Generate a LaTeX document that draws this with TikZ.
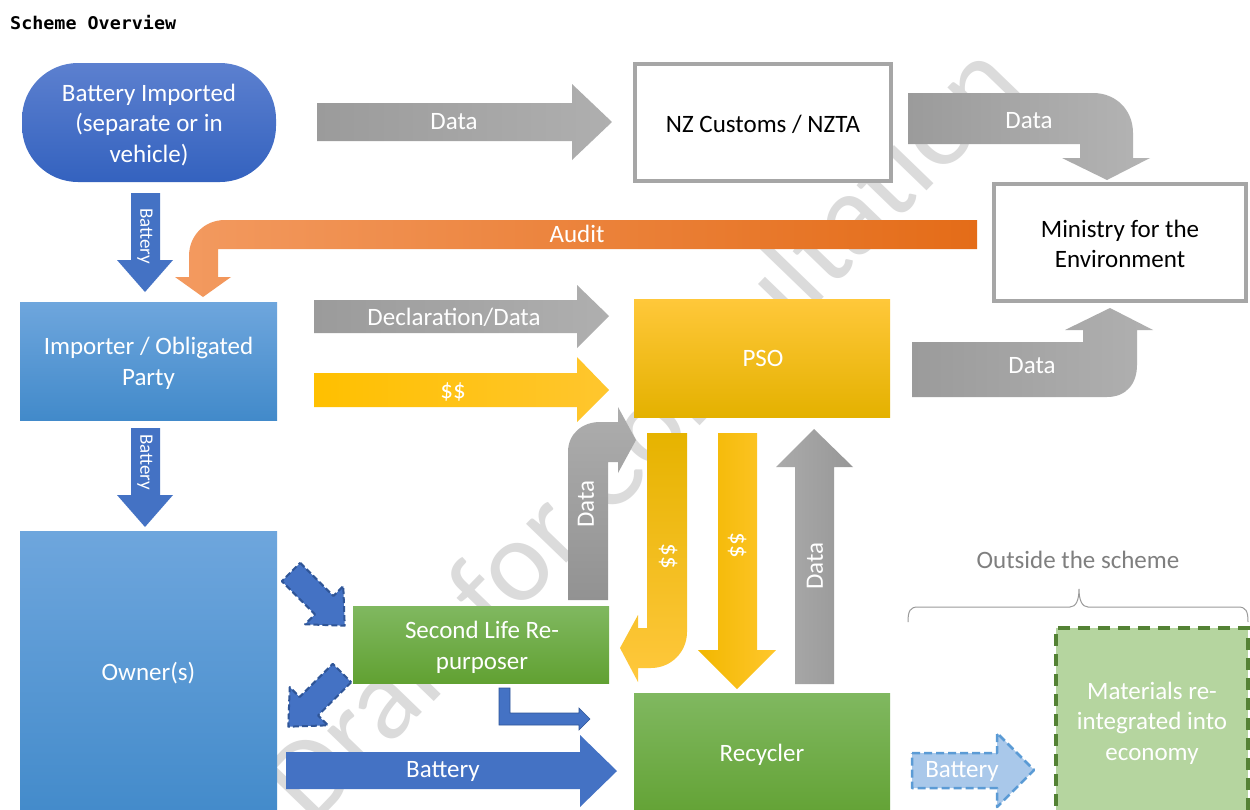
\documentclass[tikz,border=0pt]{standalone}
\usepackage{fontspec}
\setmainfont{Carlito}
\newfontfamily\titlefont{DejaVu Sans Mono}
\usetikzlibrary{calc}
\definecolor{bluedk}{HTML}{4472C4}
\definecolor{blueedge}{HTML}{2F5597}
\definecolor{grayL}{HTML}{9B9B9B}
\definecolor{grayR}{HTML}{AFAFAF}
\definecolor{grayR2}{HTML}{B4B4B4}
\definecolor{grayR3}{HTML}{B0B0B0}
\definecolor{grayT}{HTML}{ADADAD}
\definecolor{grayB}{HTML}{929292}
\definecolor{grayUL}{HTML}{ABABAB}
\definecolor{grayUR}{HTML}{979797}
\definecolor{yelT}{HTML}{FFC83A}
\definecolor{yelM}{HTML}{FFC000}
\definecolor{yelB}{HTML}{E4B100}
\definecolor{yelR}{HTML}{FFC62E}
\definecolor{yelDT}{HTML}{E6B300}
\definecolor{yelDB}{HTML}{FFC83D}
\definecolor{yelSL}{HTML}{F2B700}
\definecolor{yelSR}{HTML}{FFC72C}
\definecolor{grnT}{HTML}{80B860}
\definecolor{grnM}{HTML}{70AD47}
\definecolor{grnB}{HTML}{61A132}
\definecolor{ltblueT}{HTML}{6EA6DD}
\definecolor{ltblueB}{HTML}{428ACA}
\definecolor{impT}{HTML}{5C80CF}
\definecolor{impB}{HTML}{3462BF}
\definecolor{orgL}{HTML}{F39A60}
\definecolor{orgR}{HTML}{E46C18}
\definecolor{boxedge}{HTML}{A6A6A6}
\definecolor{matfill}{HTML}{B5D59F}
\definecolor{matedge}{HTML}{548235}
\definecolor{lbfill}{HTML}{A9C8EA}
\definecolor{lbedge}{HTML}{5B9BD5}
\definecolor{bracecol}{HTML}{9A9A9A}
\definecolor{outcol}{HTML}{7F7F7F}
\begin{document}
\begin{tikzpicture}[x=1pt,y=-1pt,
  lbl/.style={text=white, font=\fontsize{25}{30.5}\selectfont, inner sep=0pt, align=center},
  smlbl/.style={text=white, font=\fontsize{19}{22}\selectfont, inner sep=0pt},
  blk/.style={font=\fontsize{25}{30.5}\selectfont, inner sep=0pt, align=center},
  whitebox/.style={draw=boxedge, line width=3.5pt, fill=white},
  bluebox/.style={top color=ltblueT, bottom color=ltblueB, draw=none},
  greenbox/.style={top color=grnT, middle color=grnM, bottom color=grnB, draw=none},
  dashblue/.style={fill=bluedk, draw=blueedge, line width=2pt, dash pattern=on 6pt off 3pt, line join=round},
]
\useasboundingbox (0,0) rectangle (1250,809);
\fill[white] (0,0) rectangle (1250,809);

% watermark
\node[rotate=46, text=black!14, font=\fontsize{117}{117}\selectfont, inner sep=0pt] (wm) at (640,430) {Draft for Consultation};

% title
\node[anchor=base west, inner sep=0pt, xscale=1.05, font=\titlefont\bfseries\fontsize{17.5}{20}\selectfont] (title) at (10,29) {Scheme Overview};

% ---------- boxes ----------
\node[top color=impT, bottom color=impB, draw=none, rounded corners=56pt,
      minimum width=254pt, minimum height=119pt] (imported) at (149,122.5) {};
\node[lbl] (importedT) at (149,125) {Battery Imported\\(separate or in\\vehicle)};

\node[whitebox, minimum width=256pt, minimum height=117pt] (customs) at (763,122.5) {};
\node[blk] (customsT) at (763,124) {NZ Customs / NZTA};

\node[whitebox, minimum width=252pt, minimum height=117pt] (ministry) at (1120,242.5) {};
\node[blk] (ministryT) at (1120,244) {Ministry for the\\Environment};

\node[bluebox, minimum width=257pt, minimum height=118pt] (importer) at (148.5,361) {};
\node[lbl] (importerT) at (148.5,363.5) {Importer / Obligated\\Party};

\node[bluebox, minimum width=257pt, minimum height=290pt] (owner) at (148.5,676) {};
\node[lbl] (ownerT) at (148.5,673) {Owner(s)};

\node[top color=yelT, middle color=yelM, bottom color=yelB, draw=none,
      minimum width=256pt, minimum height=118pt] (pso) at (762,358) {};
\node[lbl] (psoT) at (763,358) {PSO};

\node[greenbox, minimum width=256pt, minimum height=77pt] (second) at (481,644.5) {};
\node[lbl] (secondT) at (482,647.5) {Second Life Re-\\purposer};

\node[greenbox, minimum width=256pt, minimum height=130pt] (recycler) at (762,758) {};
\node[lbl] (recyclerT) at (762,755) {Recycler};

\node[fill=matfill, draw=matedge, line width=4pt, dash pattern=on 12pt off 8pt,
      minimum width=192pt, minimum height=190pt] (materials) at (1152,723) {};
\node[lbl] (materialsT) at (1152,723) {Materials re-\\integrated into\\economy};

% ---------- arrows ----------
% Data: imported -> customs
\shade[left color=grayL, right color=grayR]
  (317,103) -- (572,103) -- (572,84) -- (612,122) -- (572,160) -- (572,141) -- (317,141) -- cycle;
\node[lbl] (dataA) at (454,122) {Data};

% Data: customs -> ministry (bent)
\shade[left color=grayL, right color=grayR2]
  (908,93) -- (1093,93) .. controls (1116,93) and (1133,110) .. (1133,133) -- (1133,158)
  -- (1150,158) -- (1107,180) -- (1062,158) -- (1080,158) -- (1080,144) -- (908,144) -- cycle;
\node[lbl] (dataB) at (1029,121) {Data};

% Audit (bent, orange)
\shade[left color=orgL, right color=orgR]
  (977,220) -- (225,220) .. controls (204,220) and (189,236) .. (189,256) -- (189,277)
  -- (175,277) -- (203,297) -- (231,277) -- (218,277) -- (218,249) -- (977,249) -- cycle;
\node[lbl] (audit) at (577,234) {Audit};

% Battery arrows (small, vertical)
\fill[bluedk] (131,193) -- (160,193) -- (160,260) -- (173,260) -- (145,292) -- (117,260) -- (131,260) -- cycle;
\node[smlbl, rotate=-90] (bat1) at (145,236) {Battery};
\fill[bluedk] (131,428) -- (160,428) -- (160,495) -- (173,495) -- (145,527) -- (117,495) -- (131,495) -- cycle;
\node[smlbl, rotate=-90] (bat2) at (145,462) {Battery};

% Declaration/Data
\shade[left color=grayL, right color=grayR]
  (314,300) -- (577,300) -- (577,285) -- (609,316) -- (577,348) -- (577,333) -- (314,333) -- cycle;
\node[lbl] (decl) at (454,317) {Declaration/Data};

% $$ -> PSO
\shade[left color=yelM, right color=yelR]
  (314,373) -- (577,373) -- (577,357) -- (609,390) -- (577,422) -- (577,407) -- (314,407) -- cycle;
\node[lbl] (money1) at (453,392) {\$\$};

% Data: PSO -> Ministry (bent up)
\shade[left color=grayL, right color=grayR3]
  (912,342) -- (1083,342) -- (1083,330) -- (1065,330) -- (1110,308) -- (1153,330) -- (1137,330)
  -- (1137,365) .. controls (1137,384) and (1126,397) .. (1107,397) -- (912,397) -- cycle;
\node[lbl] (dataC) at (1032,366) {Data};

% Data: second life -> PSO (bent)
\shade[top color=grayT, bottom color=grayB]
  (568,600) -- (568,452) .. controls (568,434) and (582,422) .. (600,422) -- (618,422) -- (618,407)
  -- (636,440) -- (618,473) -- (618,462) -- (608,462) -- (608,600) -- cycle;
\node[lbl, rotate=90] (dataD) at (586,504) {Data};

% $$ PSO -> second life (bent)
\shade[top color=yelDT, bottom color=yelDB]
  (647,433) -- (687,433) -- (687,632) .. controls (687,652) and (671,668) .. (651,668) -- (638,668)
  -- (638,682) -- (620,648) -- (638,615) -- (638,628) -- (647,628) -- cycle;
\node[lbl, rotate=-90] (money2) at (668,556) {\$\$};

% $$ PSO -> recycler
\shade[left color=yelSL, right color=yelSR]
  (718,433) -- (757,433) -- (757,650) -- (776,650) -- (737,689) -- (698,650) -- (718,650) -- cycle;
\node[lbl, rotate=-90] (money3) at (737,545) {\$\$};

% Data recycler -> PSO
\shade[left color=grayUL, right color=grayUR]
  (795,684) -- (795,467) -- (776,467) -- (814,429) -- (853,467) -- (834,467) -- (834,684) -- cycle;
\node[lbl, rotate=90] (dataE) at (815,566) {Data};

% dashed arrow owner -> second life
\filldraw[dashblue] (300.2,562.8) -- (333.4,596) -- (343.3,586.1) -- (344.7,625.7)
  -- (305.1,624.3) -- (315,614.4) -- (281.8,581.2) -- cycle;
% dashed arrow second life -> owner
\filldraw[dashblue] (351.2,682.2) -- (318,715.4) -- (327.9,725.3) -- (288.3,726.7)
  -- (289.7,687.1) -- (299.6,697) -- (332.8,663.8) -- cycle;

% small bent arrow second life -> recycler
\filldraw[fill=bluedk, draw=blueedge, line width=0.6pt]
  (499,688) -- (510,688) -- (510,713) -- (579,713) -- (579,708) -- (590,719) -- (579,730)
  -- (579,725) -- (499,725) -- cycle;

% Battery owner -> recycler
\fill[bluedk] (286,752) -- (580,752) -- (580,735) -- (617,771) -- (580,807) -- (580,789) -- (286,789) -- cycle;
\node[lbl] (bat3) at (443,771) {Battery};

% Battery recycler -> materials (dashed light)
\filldraw[fill=lbfill, draw=lbedge, line width=2.5pt, dash pattern=on 8pt off 4pt, line join=round]
  (912,753) -- (997,753) -- (997,733) -- (1034,770) -- (997,807) -- (997,788) -- (912,788) -- cycle;
\node[lbl] (bat4) at (962,771) {Battery};

% brace
\draw[bracecol, line width=1pt]
  (908,622) .. controls (908,611) and (910,607) .. (918,607) -- (1070,607)
  .. controls (1076,607) and (1079,600) .. (1079,589)
  .. controls (1079,600) and (1082,607) .. (1088,607) -- (1238,607)
  .. controls (1246,607) and (1248,611) .. (1248,622);
\node[blk, text=outcol] (outside) at (1078,560) {Outside the scheme};
\end{tikzpicture}
\end{document}
